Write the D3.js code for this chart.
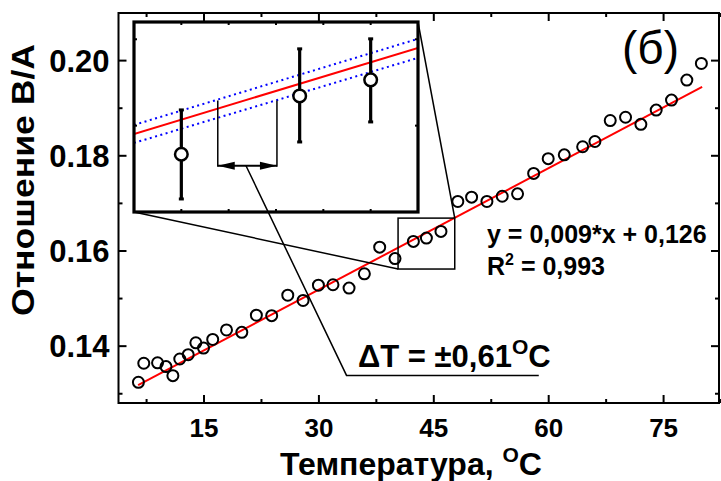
<!DOCTYPE html>
<html><head><meta charset="utf-8">
<script src="https://cdn.jsdelivr.net/npm/d3@7"></script>
<style>
body{margin:0;background:#fff;}
svg{display:block;font-family:"Liberation Sans",Arial,sans-serif;}
</style></head>
<body><svg id="c" width="721" height="481"></svg>
<script>
// ---- data ----
const temps  = [6.5,7.2,9.0,10.1,11.0,11.9,13.0,14.0,15.0,16.2,18.0,20.0,21.9,23.9,26.0,28.0,30.0,31.9,34.0,36.0,38.0,40.0,42.4,44.1,46.0,48.2,50.0,52.0,54.0,56.0,58.1,60.0,62.1,64.5,66.1,68.1,70.1,72.1,74.1,76.1,78.1,80.0];
const ratios = [0.1323,0.1363,0.1364,0.1356,0.1337,0.1372,0.1381,0.1406,0.1395,0.1413,0.1433,0.1428,0.1464,0.1463,0.1506,0.1495,0.1527,0.1528,0.1521,0.1551,0.1607,0.1583,0.1619,0.1626,0.1640,0.1703,0.1712,0.1703,0.1714,0.1719,0.1762,0.1793,0.1801,0.1818,0.1829,0.1873,0.1880,0.1865,0.1895,0.1916,0.1958,0.1993];
const fitIntercept = 0.1262, fitSlope = 0.000851, fitRange = [6.46, 80.1];
const xDomain = [3.9, 82.3], yDomain = [0.12795, 0.2099];
const xTicks = [15,30,45,60,75], xMinor = [7.5,22.5,37.5,52.5,67.5,82.5];
const yTicks = [0.14,0.16,0.18,0.20], yTickLabels = ["0.14","0.16","0.18","0.20"], yMinor = [0.13,0.15,0.17,0.19];
// zoomed region (data units) and inset (inset units)
const zoomX = [40.4, 47.8], zoomY = [0.1561, 0.1668];
const insetXDomain = [0, 6], insetYDomain = [0, 2.2];
const insetX = [1, 3.5, 5];
const insetY = [0.669, 1.344, 1.530];
const insetErrLo = [0.151, 0.811, 1.043];
const insetErrHi = [1.182, 1.889, 2.005];
const insetFit = [0.904, 1.900];      // values at x=0 and x=6
const insetBandHi = [1.008, 2.005];
const insetBandLo = [0.800, 1.785];
const insetXTicks = [1,2,3,4,5], insetYTicks = [1,2];
const bracketX = [1.77, 3.02], bracketY = [0.525, 1.29], arrowY = 0.536, arrowMid = 2.366;
const leaderEnd = [33.67, 0.13374], underlineEnd = 58.77;

// ---- layout ----
const L = 118.5, R = 719, T = 13, B = 403;
const svg = d3.select("#c");
const x = d3.scaleLinear().domain(xDomain).range([L, R]);
const y = d3.scaleLinear().domain(yDomain).range([B, T]);
const ix = d3.scaleLinear().domain(insetXDomain).range([134, 418]);
const iy = d3.scaleLinear().domain(insetYDomain).range([212, 22]);
const FONT = '"Liberation Sans",Arial,sans-serif';

function styleAxis(g){
  g.select(".domain").remove();
  g.selectAll(".tick line").attr("stroke","#000").attr("stroke-width",2);
  g.selectAll(".tick text").attr("fill","#000").attr("font-family",FONT).attr("font-weight","bold");
}
// major axes
svg.append("g").attr("transform",`translate(0,${B})`)
  .call(d3.axisBottom(x).tickValues(xTicks).tickSize(-8).tickPadding(16).tickFormat(d3.format("d")))
  .call(styleAxis).call(g=>g.selectAll("text").attr("font-size",26));
svg.append("g").attr("transform",`translate(0,${B})`)
  .call(d3.axisBottom(x).tickValues(xMinor).tickSize(-4).tickFormat(""))
  .call(styleAxis);
svg.append("g").attr("transform",`translate(0,${T})`)
  .call(d3.axisTop(x).tickValues(xTicks).tickSize(-8).tickFormat(""))
  .call(styleAxis);
svg.append("g").attr("transform",`translate(0,${T})`)
  .call(d3.axisTop(x).tickValues(xMinor).tickSize(-4).tickFormat(""))
  .call(styleAxis);
svg.append("g").attr("transform",`translate(${L},0)`)
  .call(d3.axisLeft(y).tickValues(yTicks).tickSize(-8).tickPadding(9).tickFormat((d,i)=>yTickLabels[i]))
  .call(styleAxis).call(g=>g.selectAll("text").attr("font-size",31).attr("dy","0.36em"));
svg.append("g").attr("transform",`translate(${L},0)`)
  .call(d3.axisLeft(y).tickValues(yMinor).tickSize(-4).tickFormat(""))
  .call(styleAxis);
svg.append("g").attr("transform",`translate(${R},0)`)
  .call(d3.axisRight(y).tickValues(yTicks).tickSize(-8).tickFormat(""))
  .call(styleAxis);
svg.append("g").attr("transform",`translate(${R},0)`)
  .call(d3.axisRight(y).tickValues(yMinor).tickSize(-4).tickFormat(""))
  .call(styleAxis);
svg.append("rect").attr("x",L).attr("y",T).attr("width",R-L).attr("height",B-T)
  .attr("fill","none").attr("stroke","#000").attr("stroke-width",2);

// axis titles
const xt = svg.append("text").attr("x",411).attr("y",475).attr("text-anchor","middle")
  .attr("font-family",FONT).attr("font-weight","bold").attr("font-size",32).attr("fill","#000");
xt.append("tspan").text("Температура, ");
xt.append("tspan").attr("font-size",21).attr("dy",-13).text("O");
xt.append("tspan").attr("dy",13).text("C");
svg.append("text").attr("transform",`translate(34,180) rotate(-90)`).attr("text-anchor","middle")
  .attr("font-family",FONT).attr("font-weight","bold").attr("font-size",31).attr("fill","#000")
  .attr("textLength",272).attr("lengthAdjust","spacingAndGlyphs")
  .text("Отношение В/А");

// data points & fit
svg.append("line")
  .attr("x1",x(fitRange[0])).attr("y1",y(fitIntercept+fitSlope*fitRange[0]))
  .attr("x2",x(fitRange[1])).attr("y2",y(fitIntercept+fitSlope*fitRange[1]))
  .attr("stroke","#ff0000").attr("stroke-width",2);
svg.append("g").selectAll("circle").data(temps).join("circle")
  .attr("cx",d=>x(d)).attr("cy",(d,i)=>y(ratios[i])).attr("r",5.5)
  .attr("fill","none").attr("stroke","#000").attr("stroke-width",2);

// zoom rectangle and connectors
svg.append("rect").attr("x",x(zoomX[0])).attr("y",y(zoomY[1]))
  .attr("width",x(zoomX[1])-x(zoomX[0])).attr("height",y(zoomY[0])-y(zoomY[1]))
  .attr("fill","none").attr("stroke","#000").attr("stroke-width",1.5);
svg.append("line").attr("x1",ix(insetXDomain[0])).attr("y1",iy(insetYDomain[0]))
  .attr("x2",x(zoomX[0])).attr("y2",y(zoomY[0])).attr("stroke","#000").attr("stroke-width",1.5);
svg.append("line").attr("x1",ix(insetXDomain[1])).attr("y1",iy(insetYDomain[1]))
  .attr("x2",x(zoomX[1])).attr("y2",y(zoomY[1])).attr("stroke","#000").attr("stroke-width",1.5);

// inset
const inset = svg.append("g");
inset.append("rect").attr("x",ix(0)).attr("y",iy(2.2)).attr("width",ix(6)-ix(0)).attr("height",iy(0)-iy(2.2))
  .attr("fill","#fff");
svg.append("defs").append("clipPath").attr("id","ic").append("rect")
  .attr("x",ix(0)).attr("y",iy(2.2)).attr("width",ix(6)-ix(0)).attr("height",iy(0)-iy(2.2));
const ig = inset.append("g").attr("clip-path","url(#ic)");
ig.append("line").attr("x1",ix(0)).attr("y1",iy(insetBandHi[0])).attr("x2",ix(6)).attr("y2",iy(insetBandHi[1]))
  .attr("stroke","#0000ff").attr("stroke-width",2).attr("stroke-dasharray","2,3.5");
ig.append("line").attr("x1",ix(0)).attr("y1",iy(insetBandLo[0])).attr("x2",ix(6)).attr("y2",iy(insetBandLo[1]))
  .attr("stroke","#0000ff").attr("stroke-width",2).attr("stroke-dasharray","2,3.5");
ig.append("line").attr("x1",ix(0)).attr("y1",iy(insetFit[0])).attr("x2",ix(6)).attr("y2",iy(insetFit[1]))
  .attr("stroke","#ff0000").attr("stroke-width",2);
// error bars
insetX.forEach((d,i)=>{
  ig.append("line").attr("x1",ix(d)).attr("x2",ix(d)).attr("y1",iy(insetErrLo[i])).attr("y2",iy(insetErrHi[i]))
    .attr("stroke","#000").attr("stroke-width",3.2);
  [insetErrLo[i],insetErrHi[i]].forEach(v=>{
    ig.append("line").attr("x1",ix(d)-2.5).attr("x2",ix(d)+2.5).attr("y1",iy(v)).attr("y2",iy(v))
      .attr("stroke","#000").attr("stroke-width",3);
  });
});
ig.selectAll("circle.p").data(insetX).join("circle").attr("class","p")
  .attr("cx",d=>ix(d)).attr("cy",(d,i)=>iy(insetY[i])).attr("r",6.3)
  .attr("fill","#fff").attr("stroke","#000").attr("stroke-width",2.5);
// bracket
bracketX.forEach(b=>{
  ig.append("line").attr("x1",ix(b)).attr("x2",ix(b)).attr("y1",iy(bracketY[0])).attr("y2",iy(bracketY[1]))
    .attr("stroke","#000").attr("stroke-width",1.5);
});
ig.append("line").attr("x1",ix(bracketX[0])).attr("x2",ix(bracketX[1])).attr("y1",iy(arrowY)).attr("y2",iy(arrowY))
  .attr("stroke","#000").attr("stroke-width",2);
const ax0 = ix(bracketX[0]), ax1 = ix(bracketX[1]), ay = iy(arrowY);
ig.append("path").attr("d",`M${ax0},${ay}L${ax0+17},${ay-4}L${ax0+17},${ay+4}Z`).attr("fill","#000");
ig.append("path").attr("d",`M${ax1},${ay}L${ax1-17},${ay-4}L${ax1-17},${ay+4}Z`).attr("fill","#000");
// inset ticks
insetXTicks.forEach(t=>{
  inset.append("line").attr("x1",ix(t)).attr("x2",ix(t)).attr("y1",iy(0)).attr("y2",iy(0)-3).attr("stroke","#000").attr("stroke-width",2);
  inset.append("line").attr("x1",ix(t)).attr("x2",ix(t)).attr("y1",iy(2.2)).attr("y2",iy(2.2)+3).attr("stroke","#000").attr("stroke-width",2);
});
insetYTicks.forEach(t=>{
  inset.append("line").attr("x1",ix(0)).attr("x2",ix(0)+3).attr("y1",iy(t)).attr("y2",iy(t)).attr("stroke","#000").attr("stroke-width",2);
  inset.append("line").attr("x1",ix(6)).attr("x2",ix(6)-3).attr("y1",iy(t)).attr("y2",iy(t)).attr("stroke","#000").attr("stroke-width",2);
});
inset.append("rect").attr("x",ix(0)).attr("y",iy(2.2)).attr("width",ix(6)-ix(0)).attr("height",iy(0)-iy(2.2))
  .attr("fill","none").attr("stroke","#000").attr("stroke-width",3.2);

// leader line to ΔT label
svg.append("path")
  .attr("d",`M${ix(arrowMid)},${iy(arrowY)}L${x(leaderEnd[0])},${y(leaderEnd[1])}L${x(underlineEnd)},${y(leaderEnd[1])}`)
  .attr("fill","none").attr("stroke","#000").attr("stroke-width",1.5);
const dt = svg.append("text").attr("x",358).attr("y",367)
  .attr("font-family",FONT).attr("font-weight","bold").attr("font-size",31).attr("fill","#000");
dt.append("tspan").text("ΔT = ±0,61");
dt.append("tspan").attr("font-size",21).attr("dy",-13).text("O");
dt.append("tspan").attr("dy",13).text("C");

// equation
svg.append("text").attr("x",487).attr("y",243).attr("font-family",FONT).attr("font-weight","bold")
  .attr("font-size",25).attr("fill","#000").text("y = 0,009*x + 0,126");
const r2 = svg.append("text").attr("x",487).attr("y",275).attr("font-family",FONT).attr("font-weight","bold")
  .attr("font-size",25).attr("fill","#000");
r2.append("tspan").text("R");
r2.append("tspan").attr("font-size",16).attr("dy",-10).text("2");
r2.append("tspan").attr("dy",10).text(" = 0,993");

// panel label
svg.append("text").attr("x",622).attr("y",64).attr("font-family",FONT).attr("font-size",46)
  .attr("fill","#000").text("(б)");
</script></body></html>
